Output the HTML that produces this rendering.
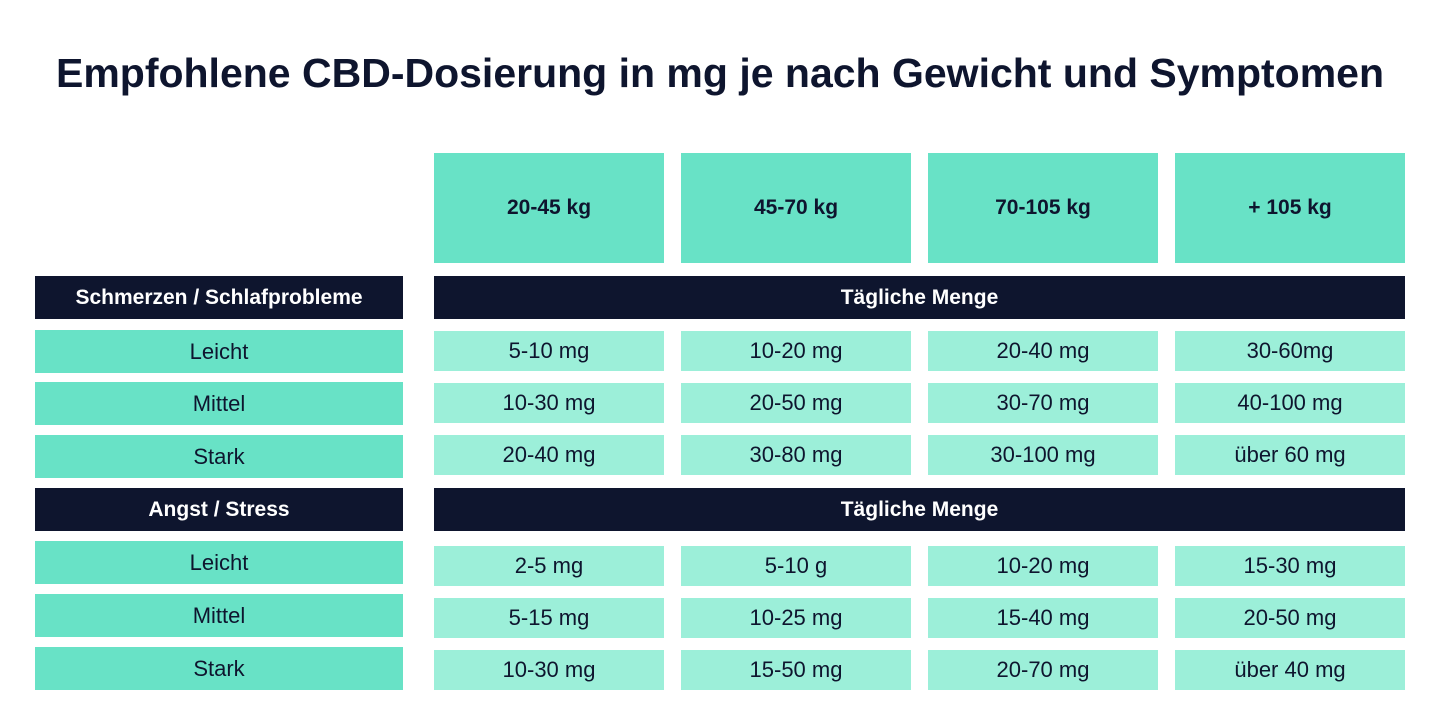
<!DOCTYPE html>
<html><head><meta charset="utf-8"><style>
body{margin:0;width:1440px;height:725px;background:#fff;font-family:"Liberation Sans",sans-serif;position:relative;overflow:hidden}
.c{position:absolute;display:flex;align-items:center;justify-content:center;color:#0e152e;font-size:22px}
.h{background:#68e2c6;font-weight:bold;font-size:21px}
.d{background:#0e152e;color:#fff;font-weight:bold;font-size:21px}
.l{background:#68e2c6}
.v{background:#9cefd9}
h1{position:absolute;top:50px;left:0;width:1440px;margin:0;text-align:center;font-size:41px;font-weight:bold;color:#0e152e;white-space:nowrap}
</style></head><body>
<h1>Empfohlene CBD-Dosierung in mg je nach Gewicht und Symptomen</h1>
<div id="t"></div>
<script>
const weights=["20-45 kg","45-70 kg","70-105 kg","+ 105 kg"];
const groups=["Schmerzen / Schlafprobleme","Angst / Stress"];
const levels=["Leicht","Mittel","Stark"];
const values1=[["5-10 mg","10-20 mg","20-40 mg","30-60mg"],["10-30 mg","20-50 mg","30-70 mg","40-100 mg"],["20-40 mg","30-80 mg","30-100 mg","über 60 mg"]];
const values2=[["2-5 mg","5-10 g","10-20 mg","15-30 mg"],["5-15 mg","10-25 mg","15-40 mg","20-50 mg"],["10-30 mg","15-50 mg","20-70 mg","über 40 mg"]];
const t=document.getElementById('t');
function cell(cls,x,y,w,h,txt,name){const e=document.createElement('div');e.className='c '+cls;e.style.cssText=`left:${x}px;top:${y}px;width:${w}px;height:${h}px`;e.textContent=txt;


t.appendChild(e);}
const colX=[434,681,928,1175],colW=230;
weights.forEach((w,i)=>cell('h',colX[i],153,colW,110,w,'weight-header'));
const gY=[276,488];
const lY=[[330,382,435],[541,594,647]];
const vY=[[331,383,435],[546,598,650]];
[values1,values2].forEach((vals,g)=>{
 cell('d',35,gY[g],368,43,groups[g],'group-label');
 cell('d',434,gY[g],971,43,'Tägliche Menge','daily-amount-header');
 levels.forEach((lv,r)=>{
  cell('l',35,lY[g][r],368,43,lv,'severity-label');
  vals[r].forEach((v,i)=>cell('v',colX[i],vY[g][r],colW,40,v,'dose-cell'));
 });
});
</script>
</body></html>
